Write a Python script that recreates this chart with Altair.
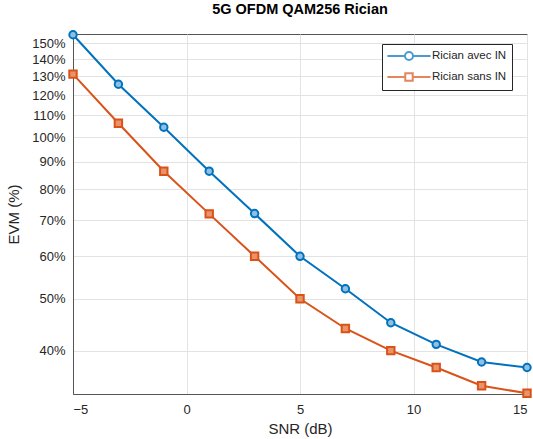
import altair as alt
import pandas as pd

snr = [-5, -3, -1, 1, 3, 5, 7, 9, 11, 13, 15]
evm_avec = [155.5, 125.7, 104.5, 86.5, 72.1, 60.0, 52.2, 45.1, 41.1, 38.1, 37.2]
evm_sans = [131.3, 106.3, 86.5, 72.0, 60.0, 50.0, 44.0, 40.0, 37.2, 34.4, 33.3]
series = ["Rician avec IN", "Rician sans IN"]
y_ticks = [40, 50, 60, 70, 80, 90, 100, 110, 120, 130, 140, 150]
x_ticks = [-5, 0, 5, 10, 15]

rows = []
for s, vals in zip(series, [evm_avec, evm_sans]):
    for x, v in zip(snr, vals):
        rows.append({"snr": x, "evm": v, "series": s})
df = pd.DataFrame(rows)

colors = ["#0072BD", "#D95319"]
fills = ["#8fc0e4", "#e9936a"]
shapes = ["circle", "square"]
FONT = "Liberation Sans"

xenc = alt.X("snr:Q", scale=alt.Scale(domain=[-5, 15], nice=False, zero=False),
             axis=alt.Axis(values=x_ticks, title="SNR (dB)", grid=True, ticks=False,
                           labelFontSize=13, labelColor="#262626", titleFontSize=15,
                           titleFontWeight="normal", titleColor="#262626",
                           labelPadding=9, titlePadding=5, domainColor="#555555",
                           gridColor="#e3e3e3", labelFont=FONT, titleFont=FONT))
yenc = alt.Y("evm:Q", scale=alt.Scale(type="log", domain=[33.2, 156], nice=False, zero=False),
             axis=alt.Axis(values=y_ticks, labelExpr="datum.value + '%'", title="EVM (%)",
                           grid=True, ticks=False, labelFontSize=13, labelColor="#262626",
                           titleFontSize=15, titleFontWeight="normal", titleColor="#262626",
                           labelPadding=8, titlePadding=10, domainColor="#555555",
                           gridColor="#e3e3e3", labelFont=FONT, titleFont=FONT))

layers = []
for s, c, f, sh in zip(series, colors, fills, shapes):
    base = alt.Chart(df).transform_filter(alt.datum.series == s)
    layers.append(base.mark_line(strokeWidth=2, clip=False, color=c).encode(x=xenc, y=yenc))
    layers.append(base.mark_point(filled=False, strokeWidth=2, size=55, opacity=1, clip=False,
                                  color=c, fill=f, shape=sh).encode(x=xenc, y=yenc))

# symbol unit = 6px (symbolSize 144 -> 12px square)
circ_path = "M-3.6,0H-0.67 M0.67,0H3.6 M0.67,0A0.67,0.67 0 1,1 -0.67,0A0.67,0.67 0 1,1 0.67,0"
sq_path = "M-3.6,0H-0.62 M0.62,0H3.6 M-0.62,-0.62H0.62V0.62H-0.62Z"

legend_cfg = dict(title=None, orient="none", legendX=309, legendY=10,
                  fillColor="white", strokeColor="#262626",
                  padding=5, symbolSize=144, symbolStrokeWidth=2,
                  symbolOffset=15, labelOffset=16,
                  labelFontSize=11.5, labelColor="#262626",
                  labelFont=FONT, rowPadding=4)

leg = alt.Chart(df).transform_filter("false").mark_point(filled=False, strokeWidth=2).encode(
    x=xenc, y=yenc,
    color=alt.Color("series:N", scale=alt.Scale(domain=series, range=colors),
                    legend=alt.Legend(**legend_cfg)),
    shape=alt.Shape("series:N", scale=alt.Scale(domain=series, range=[circ_path, sq_path]),
                    legend=alt.Legend(**legend_cfg)),
)
layers.append(leg)

chart = alt.layer(*layers).properties(
    width=454, height=360,
    title=alt.Title("5G OFDM QAM256 Rician", fontSize=14.5, fontWeight="bold",
                    font=FONT, color="#000000", offset=10),
    autosize=alt.AutoSizeParams(type="none"),
    padding={"left": 73, "top": 34, "right": 6, "bottom": 45},
    background="white",
).configure_view(stroke="#555555", strokeWidth=1)

chart.save("out.html", embed_options={"renderer": "svg", "actions": False})
